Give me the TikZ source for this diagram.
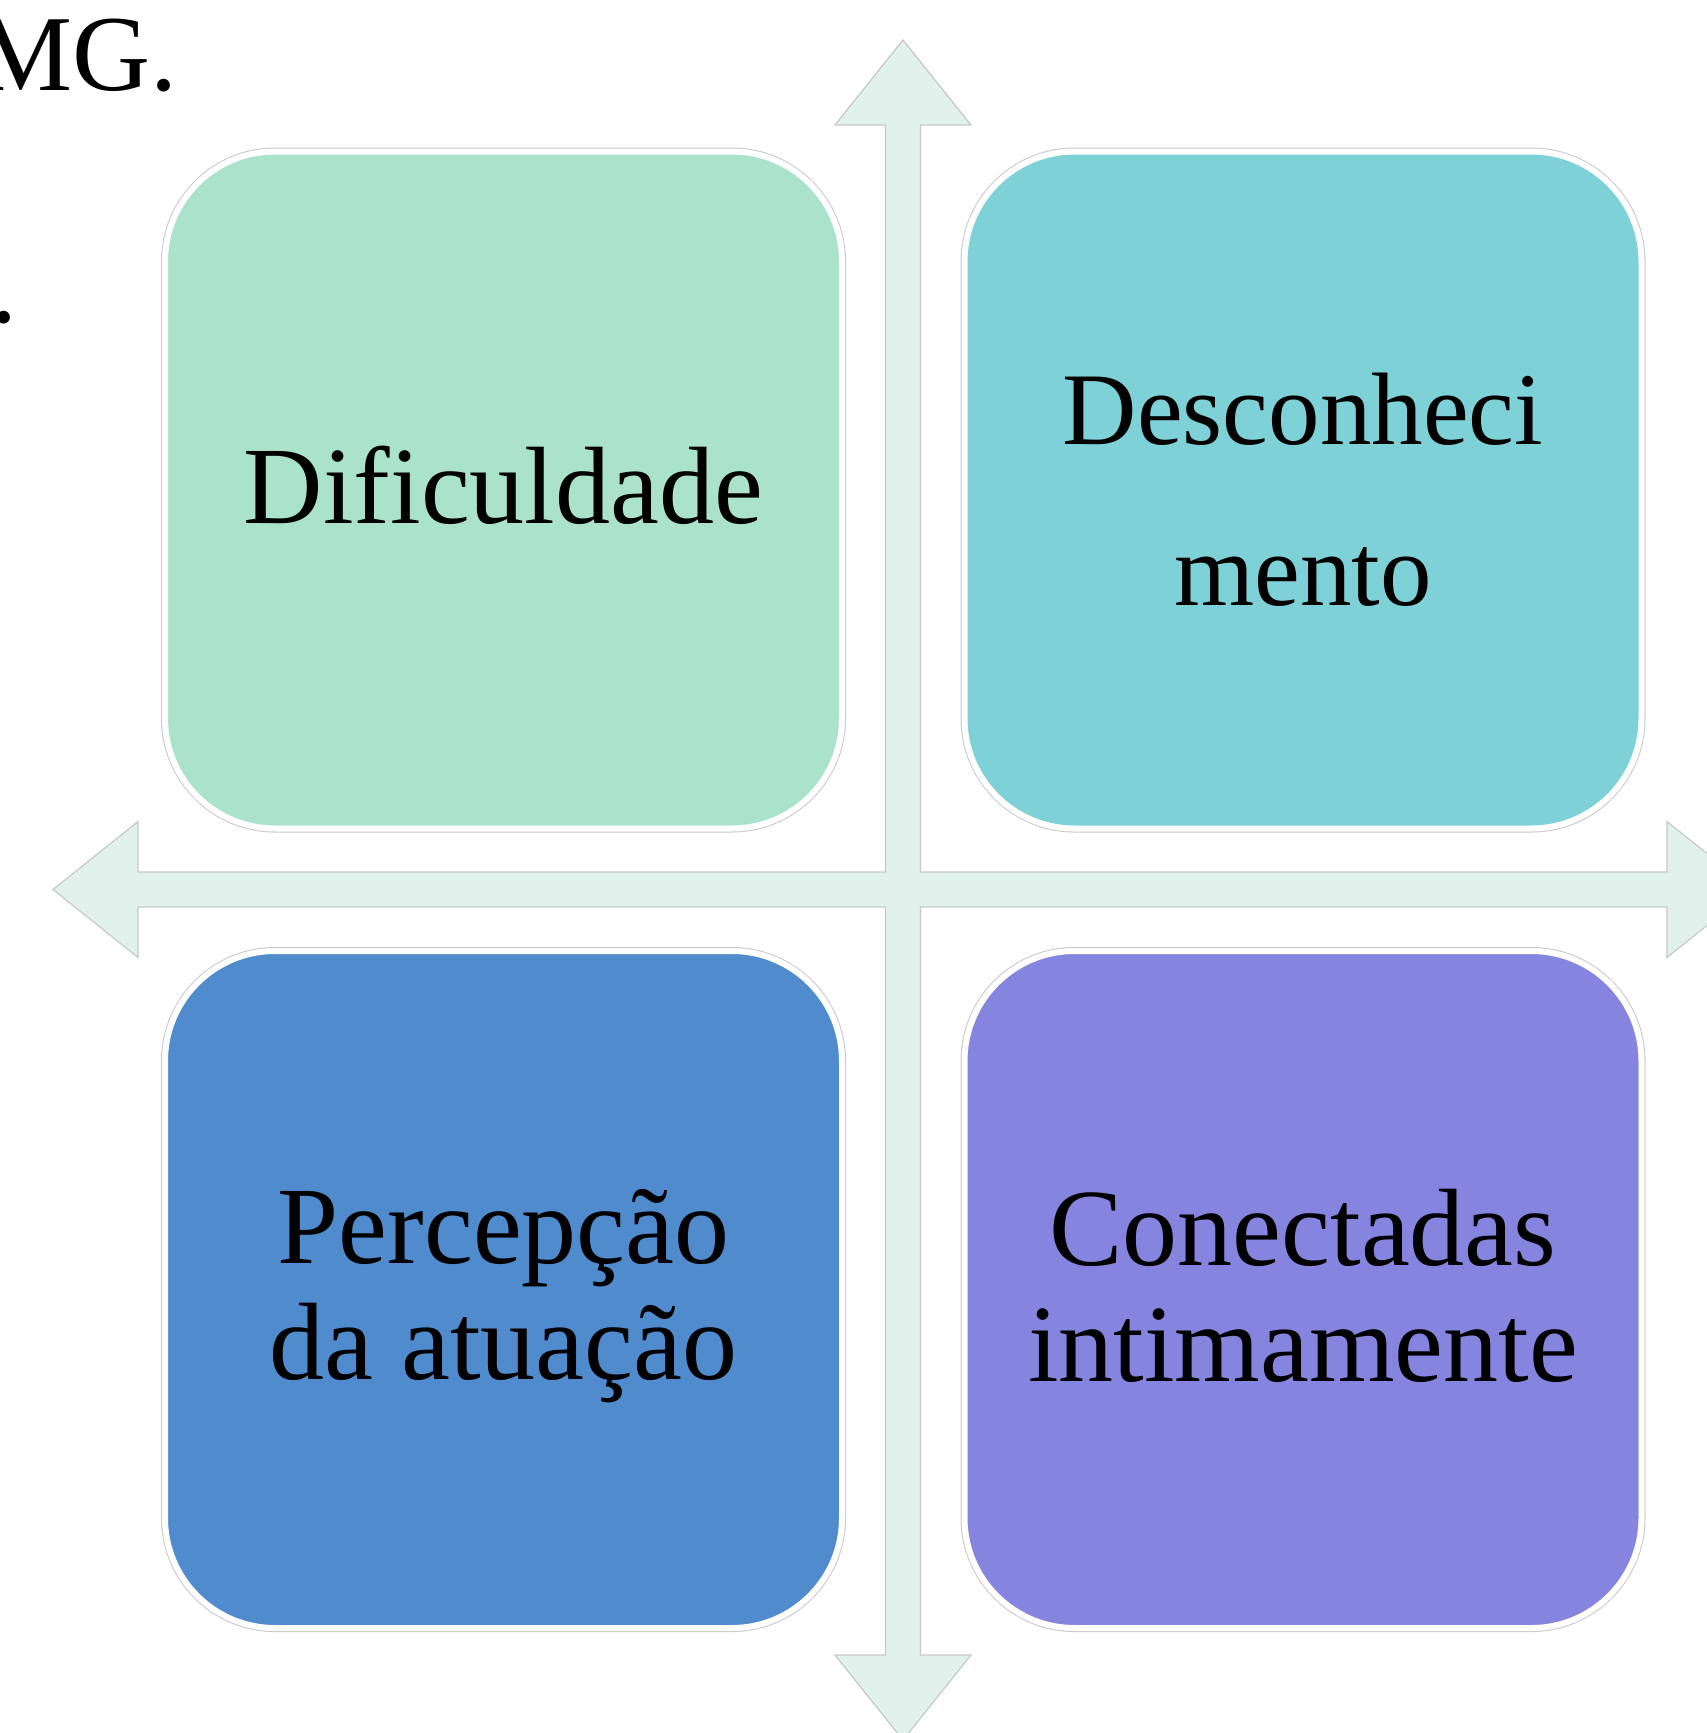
\documentclass[tikz,border=0pt]{standalone}
\usepackage{fontspec}
\setmainfont{Liberation Serif}[Ligatures=NoCommon]
\definecolor{cgreen}{HTML}{ABE2CB}
\definecolor{cteal}{HTML}{7ED1D7}
\definecolor{cblue}{HTML}{4F8BCD}
\definecolor{cpurple}{HTML}{8585DF}
\definecolor{carrow}{HTML}{E1F2EC}
\definecolor{cline}{HTML}{C8C8C8}
\tikzset{
  quad/.style={rounded corners=110pt, minimum width=677pt, minimum height=677pt,
    inner sep=0pt,
    draw=white, line width=6pt,
    preaction={draw=cline, line width=8pt}},
  label/.style={inner sep=0pt, align=center, text=black},
  big/.style={font=\fontsize{110}{116}\selectfont},
  bigwide/.style={font=\fontsize{103}{161}\selectfont},
  cross/.style={fill=carrow, draw=cline, line width=1.2pt, line join=miter}
}
\begin{document}
\begin{tikzpicture}[x=1pt,y=-1pt]
\useasboundingbox (0,0) rectangle (1707,1733);
% cross of four arrows
\draw[cross] (903,40) -- (971,125) -- (920.5,125) -- (920.5,872) -- (1667,872) -- (1667,821.5)
  -- (1752,889.5) -- (1667,957.5) -- (1667,907) -- (920.5,907) -- (920.5,1655) -- (971,1655)
  -- (903,1740) -- (835,1655) -- (885.5,1655) -- (885.5,907) -- (138,907) -- (138,957.5)
  -- (53,889.5) -- (138,821.5) -- (138,872) -- (885.5,872) -- (885.5,125) -- (835,125) -- cycle;
% quadrant boxes
\node[quad, fill=cgreen] (dif) at (503.5,490) {};
\node[quad, fill=cteal] (des) at (1303,490) {};
\node[quad, fill=cblue] (per) at (503.5,1289.5) {};
\node[quad, fill=cpurple] (con) at (1303,1289.5) {};
% labels
\node[label, big] (tdif) at ([yshift=5pt]dif.center) {Dificuldade};
\node[label, bigwide] (tdes) at (des.center) {Desconheci\\mento};
\node[label, big] (tper) at ([yshift=-7pt]per.center) {Percepção\\da atuação};
\node[label, big] (tcon) at ([yshift=4pt]con.center) {Conectadas\\intimamente};
% cut-off text at top left
\node[anchor=base east, inner sep=0pt, font=\fontsize{108}{116}\selectfont] (mg) at (177.6,90) {MG.};
\node[anchor=base west, inner sep=0pt, font=\fontsize{108}{116}\selectfont] (dot) at (-9.4,322) {.};
\end{tikzpicture}
\end{document}
